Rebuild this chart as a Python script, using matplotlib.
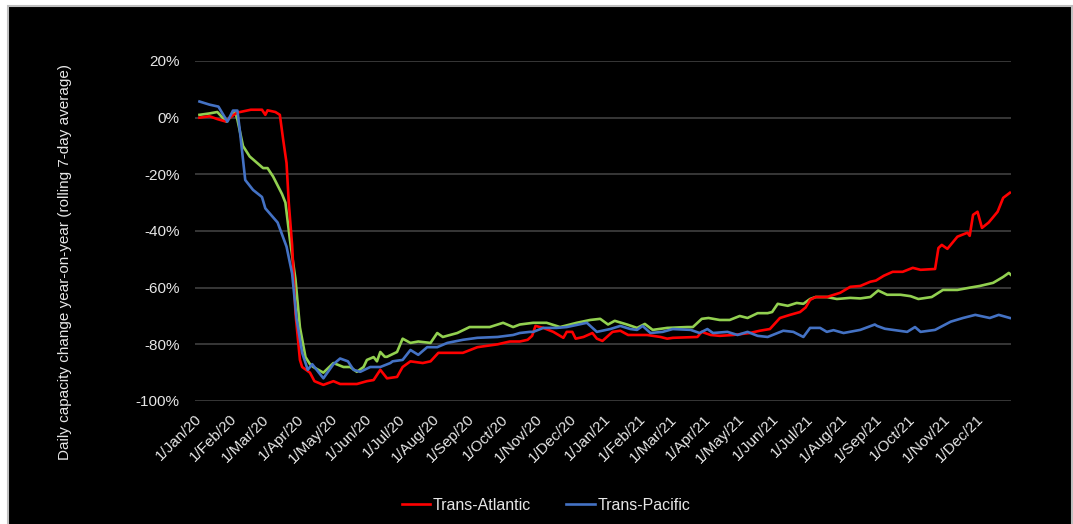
import pandas as pd
import matplotlib.pyplot as plt
from matplotlib.patches import Rectangle

plt.rcParams['font.family'] = ['Liberation Sans', 'DejaVu Sans']

# days since 1/Jan/20 and capacity change (%)
atl_days = [4, 13, 20, 27, 34, 38, 50, 60, 63, 65, 72, 76, 79, 82, 84, 87, 90, 94, 96, 103,
            107, 115, 124, 130, 139, 145, 154, 160, 166, 172, 181, 186, 193, 204, 211, 218, 240,
            253, 271, 282, 291, 298, 302, 305, 312, 321, 330, 333, 338, 341, 348, 356, 360, 365,
            374, 381, 388, 405, 417, 423, 428, 450, 454, 459, 462, 470, 482, 497, 506, 515, 524,
            533, 542, 547, 551, 556, 566, 578, 587, 596, 605, 610, 617, 625, 634, 643, 650, 663,
            666, 669, 674, 683, 692, 694, 697, 701, 705, 711, 719, 724, 730]
atl_vals = [0.0, 0.5, -0.5, -1.3, 0.8, 1.8, 2.8, 2.8, 1.0, 2.6, 2.0, 1.0, -7.8, -16, -30, -45, -69,
            -85.5, -88, -90, -93, -94.3, -93, -94, -94, -94, -93, -92.6, -89, -92, -91.5, -88,
            -86, -86.6, -86, -83, -83, -81, -80, -79, -79, -78.4, -77, -73.5, -74.2, -75.6, -77.7,
            -75.6, -75.6, -78, -77.4, -76, -78, -78.8, -75.6, -75.2, -76.7, -76.7, -77.4, -78,
            -77.7, -77.4, -75.6, -76.3, -76.7, -77, -76.7, -76, -75.2, -74.6, -70.7, -69.6,
            -68.6, -67, -64.3, -63.3, -63.3, -61.8, -59.7, -59.4, -57.9, -57.5, -55.8, -54.4,
            -54.4, -53, -53.7, -53.4, -46, -44.9, -46.3, -42, -40.6, -41.7, -34.3, -33.2, -38.9,
            -37, -33.2, -28.3, -26.5]

pac_days = [4, 13, 21, 29, 34, 38, 40, 45, 52, 60, 63, 74, 82, 87, 91, 96, 101, 105, 115, 124,
            130, 137, 142, 148, 157, 166, 175, 177, 186, 193, 200, 208, 217, 226, 240, 253, 271,
            285, 291, 300, 303, 312, 324, 333, 351, 360, 372, 381, 390, 396, 401, 408, 419, 428,
            444, 452, 459, 464, 477, 486, 495, 504, 513, 527, 536, 545, 551, 560, 566, 572, 581,
            596, 609, 611, 618, 638, 645, 650, 663, 677, 688, 699, 712, 720, 730]
pac_vals = [5.7, 4.6, 3.9, -1.4, 2.5, 2.5, -4, -22, -25.5, -28, -32, -37, -45.5, -55, -71, -83,
            -89, -87, -92, -87, -85, -86, -89, -89.7, -88, -88, -86.6, -86, -85.5, -82, -83.7,
            -81, -81, -79.5, -78.4, -77.7, -77.4, -76.7, -76, -75.6, -75.6, -74.2, -74.2, -73.9,
            -72.4, -75.6, -74.6, -73.5, -74.6, -74.9, -73.5, -76, -75.6, -74.6, -74.9, -76,
            -74.6, -76, -75.6, -76.7, -75.6, -77, -77.4, -75.2, -75.6, -77.4, -74.2, -74.2,
            -75.6, -75, -76, -74.9, -73, -73.5, -74.5, -75.6, -73.9, -75.6, -74.9, -72, -70.7,
            -69.6, -70.7, -69.6, -70.7]

# third series (no legend entry)
oth_days = [4, 13, 20, 28, 36, 38, 43, 49, 61, 65, 70, 78, 81, 85, 90, 94, 99, 103, 106, 115,
            124, 133, 139, 145, 151, 154, 157, 160, 163, 166, 170, 172, 181, 186, 193, 200, 211,
            217, 222, 235, 246, 264, 276, 285, 291, 303, 315, 327, 342, 354, 363, 370, 376, 387,
            396, 403, 410, 423, 441, 446, 454, 460, 470, 479, 488, 495, 504, 513, 517, 522, 531,
            539, 545, 551, 556, 566, 575, 587, 596, 605, 612, 620, 632, 641, 648, 660, 670, 683,
            694, 703, 715, 724, 729, 731]
oth_vals = [1.0, 1.5, 2.0, -1.4, 2.0, -0.7, -10, -13.7, -17.8, -17.8, -20.8, -27, -30, -43, -57,
            -74, -84.5, -87, -88, -90, -86.6, -88, -88, -89.7, -88, -85.5, -85, -84.5, -86,
            -82.7, -84.4, -84.4, -82.7, -78, -79.5, -79, -79.5, -76, -77.4, -76, -73.9, -73.9,
            -72.4, -73.9, -73, -72.4, -72.4, -73.9, -72.4, -71.4, -71, -73, -71.7, -73, -74.2,
            -72.8, -74.9, -74.2, -73.9, -73.9, -71, -70.7, -71.4, -71.4, -70, -70.7, -69, -69,
            -68.6, -65.7, -66.4, -65.4, -65.7, -64, -63.3, -63.3, -64, -63.6, -63.8, -63.3, -61,
            -62.5, -62.5, -63, -64, -63.3, -60.8, -60.8, -60, -59.4, -58.3, -56.2, -54.8, -55.5]

start = pd.Timestamp('2020-01-01')
months = pd.date_range('2020-01-01', periods=24, freq='MS')
month_labels = [f"{d.day}/{d.strftime('%b/%y')}" for d in months]


def to_dates(days):
    return start + pd.to_timedelta(days, unit='D')


txt = '#e6e6e6'
fig = plt.figure(figsize=(10.73, 5.24), dpi=100)
fig.patch.set_facecolor('white')
# black panel with a light grey frame
fig.patches.append(Rectangle((8 / 1073, -0.01), 1064 / 1073, 1 - 6 / 524 + 0.01,
                             transform=fig.transFigure, facecolor='black',
                             edgecolor='#bfbfbf', linewidth=1.5, zorder=-10))

ax = fig.add_axes([195 / 1073, 123 / 524, 816 / 1073, 340 / 524])
ax.set_facecolor('black')

ax.plot(to_dates(oth_days), oth_vals, color='#92d050', lw=1.9, label='_nolegend_')
ax.plot(to_dates(atl_days), atl_vals, color='#ff0000', lw=1.9, label='Trans-Atlantic')
ax.plot(to_dates(pac_days), pac_vals, color='#4472c4', lw=1.9, label='Trans-Pacific')

ax.set_ylim(-100, 20)
ax.set_yticks(range(-100, 21, 20))
ax.set_yticklabels([f'{v}%' for v in range(-100, 21, 20)])
ax.set_xlim(start, pd.Timestamp('2022-01-01'))
ax.set_xticks(months)
ax.set_xticklabels(month_labels, rotation=45, ha='right', rotation_mode='anchor')

ax.grid(axis='y', color='#404040', lw=1.2)
ax.set_axisbelow(True)
for s in ax.spines.values():
    s.set_visible(False)
ax.tick_params(axis='both', length=0, colors=txt, labelsize=11)
ax.tick_params(axis='y', pad=11)
ax.tick_params(axis='x', pad=8)

fig.text(65 / 1073, 1 - 262 / 524, 'Daily capacity change year-on-year (rolling 7-day average)',
         rotation=90, ha='center', va='center', color=txt, fontsize=11)

leg = fig.legend(loc='center', bbox_to_anchor=(546 / 1073, 1 - 505 / 524), ncol=2,
                 frameon=False, fontsize=11.5, handlelength=1.8, columnspacing=2.2,
                 handletextpad=0.15)
for t in leg.get_texts():
    t.set_color(txt)

fig.savefig('out.png', dpi=100, facecolor=fig.get_facecolor())
